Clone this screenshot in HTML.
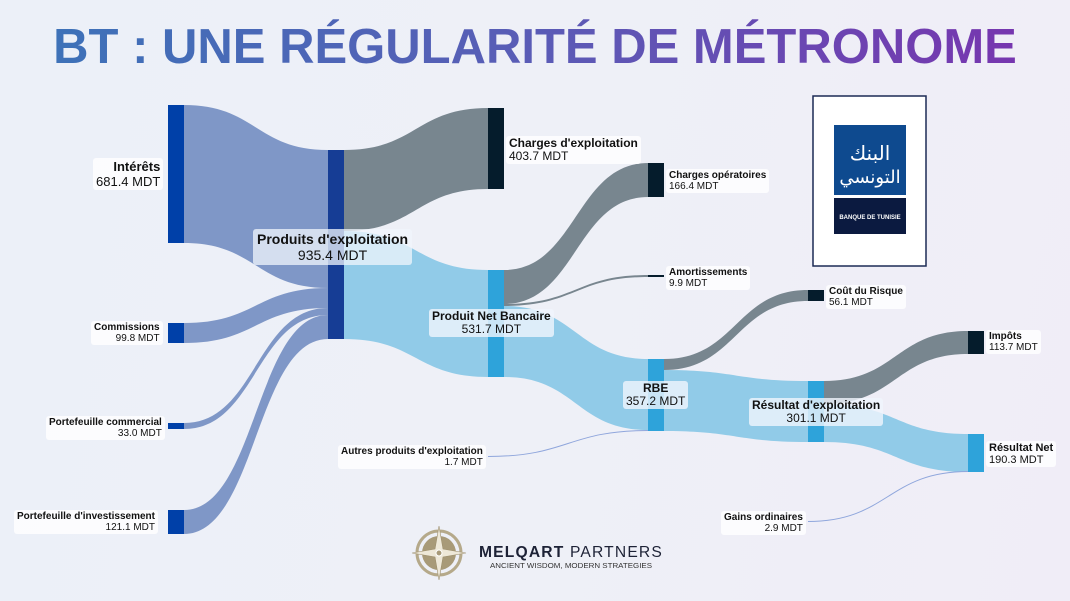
<!DOCTYPE html>
<html><head><meta charset="utf-8"><style>
html,body{margin:0;padding:0}
body{width:1070px;height:601px;overflow:hidden;background:linear-gradient(100deg,#ecf0f8 0%,#eef0f7 50%,#f0edf7 100%);font-family:"Liberation Sans",sans-serif;position:relative}
h1{position:absolute;top:18px;left:0;width:1070px;text-align:center;margin:0;font-size:49px;font-weight:bold;background:linear-gradient(90deg,#3a74b8 0%,#5a5cb6 50%,#7a32ae 100%);-webkit-background-clip:text;background-clip:text;color:transparent;line-height:58px}
.lb{position:absolute;background:rgba(255,255,255,0.8);border-radius:3px;padding:1px 3px;font-size:10px;line-height:11px;color:#111;white-space:nowrap}
.lb b{font-weight:bold}
.r{text-align:right}.c{text-align:center}
.big{font-size:13px;line-height:15px}
</style></head><body>
<h1>BT : UNE RÉGULARITÉ DE MÉTRONOME</h1>
<svg width="1070" height="601" style="position:absolute;left:0;top:0">
<path d="M184 105 C256 105 256 150 328 150 L328 288 C256 288 256 243 184 243Z" fill="#7f97c7"/>
<path d="M184 323 C256 323 256 288 328 288 L328 308 C256 308 256 343 184 343Z" fill="#7f97c7"/>
<path d="M184 423 C256 423 256 308 328 308 L328 315 C256 315 256 429 184 429Z" fill="#7f97c7"/>
<path d="M184 510 C256 510 256 315 328 315 L328 339 C256 339 256 534 184 534Z" fill="#7f97c7"/>
<path d="M344 150 C416 150 416 108 488 108 L488 189 C416 189 416 231 344 231Z" fill="#78868f"/>
<path d="M344 231 C416 231 416 270 488 270 L488 377 C416 377 416 339 344 339Z" fill="#91cbe8"/>
<path d="M504 270 C576 270 576 163 648 163 L648 197 C576 197 576 304 504 304Z" fill="#78868f"/>
<path d="M504 304 C576 304 576 275 648 275 L648 277 C576 277 576 306 504 306Z" fill="#78868f"/>
<path d="M504 306 C576 306 576 359 648 359 L648 430 C576 430 576 377 504 377Z" fill="#91cbe8"/>
<path d="M488 456.5 C568 456.5 568 430.5 648 430.5" stroke="#8fa6dc" stroke-width="1" fill="none"/>
<path d="M664 359 C736 359 736 290 808 290 L808 301 C736 301 736 370 664 370Z" fill="#78868f"/>
<path d="M664 370 C736 370 736 381 808 381 L808 442 C736 442 736 431 664 431Z" fill="#91cbe8"/>
<path d="M824 381 C896 381 896 331 968 331 L968 354 C896 354 896 404 824 404Z" fill="#78868f"/>
<path d="M824 404 C896 404 896 434 968 434 L968 472 C896 472 896 442 824 442Z" fill="#91cbe8"/>
<path d="M808 521.5 C888 521.5 888 471.5 968 471.5" stroke="#8fa6dc" stroke-width="1" fill="none"/>
<rect x="168" y="105" width="16" height="138" fill="#0040a8"/>
<rect x="168" y="323" width="16" height="20" fill="#0040a8"/>
<rect x="168" y="423" width="16" height="6" fill="#0040a8"/>
<rect x="168" y="510" width="16" height="24" fill="#0040a8"/>
<rect x="328" y="150" width="16" height="189" fill="#163d95"/>
<rect x="488" y="108" width="16" height="81" fill="#051c2c"/>
<rect x="488" y="270" width="16" height="107" fill="#2ea3da"/>
<rect x="648" y="163" width="16" height="34" fill="#051c2c"/>
<rect x="648" y="275" width="16" height="2" fill="#051c2c"/>
<rect x="648" y="359" width="16" height="72" fill="#2ea3da"/>
<rect x="808" y="290" width="16" height="11" fill="#051c2c"/>
<rect x="808" y="381" width="16" height="61" fill="#2ea3da"/>
<rect x="968" y="331" width="16" height="23" fill="#051c2c"/>
<rect x="968" y="434" width="16" height="38" fill="#2ea3da"/>
<rect x="813" y="96" width="113" height="170" fill="#fff" stroke="#1c2a55" stroke-width="1.5"/>
<rect x="834" y="125" width="72" height="70" fill="#0e4a8f"/>
<rect x="834" y="198" width="72" height="36" fill="#0b1a40"/>
<text x="870" y="160" fill="#fff" font-size="20" text-anchor="middle" font-family="DejaVu Sans">البنك</text>
<text x="870" y="183" fill="#fff" font-size="18" text-anchor="middle" font-family="DejaVu Sans">التونسي</text>
<text x="870" y="219" fill="#fff" font-size="6" font-weight="bold" text-anchor="middle">BANQUE DE TUNISIE</text>
<circle cx="439" cy="553" r="22" fill="none" stroke="#b5a98a" stroke-width="3"/>
<circle cx="439" cy="553" r="17" fill="#a89a78"/>
<polygon points="439,526 443,549 466,553 443,557 439,580 435,557 412,553 435,549" fill="#eee8d8" stroke="#9c8e6c" stroke-width="0.6"/>
<circle cx="439" cy="553" r="3" fill="#a89a78" stroke="#fff"/>
<text x="479" y="557" font-size="16" fill="#1d2236" letter-spacing="1.2" textLength="184" lengthAdjust="spacingAndGlyphs"><tspan font-weight="bold">MELQART</tspan> PARTNERS</text>
<text x="490" y="568" font-size="7.5" fill="#333" textLength="162" lengthAdjust="spacingAndGlyphs">ANCIENT WISDOM, MODERN STRATEGIES</text>
</svg>
<div class="lb r big" style="left:93px;top:158px"><b>Intérêts</b><br>681.4 MDT</div>
<div class="lb r" style="left:91px;top:321px"><b>Commissions</b><br>99.8 MDT</div>
<div class="lb r" style="left:46px;top:416px"><b>Portefeuille commercial</b><br>33.0 MDT</div>
<div class="lb r" style="left:14px;top:510px"><b>Portefeuille d'investissement</b><br>121.1 MDT</div>
<div class="lb c big" style="left:253px;top:229px;font-size:14px;line-height:16px;padding:2px 4px;background:rgba(240,245,252,0.75)"><b>Produits d'exploitation</b><br>935.4 MDT</div>
<div class="lb" style="left:506px;top:136px;font-size:12px;line-height:13px"><b>Charges d'exploitation</b><br>403.7 MDT</div>
<div class="lb c" style="left:429px;top:309px;font-size:12px;line-height:13px;background:rgba(240,245,252,0.8)"><b>Produit Net Bancaire</b><br>531.7 MDT</div>
<div class="lb" style="left:666px;top:169px"><b>Charges opératoires</b><br>166.4 MDT</div>
<div class="lb" style="left:666px;top:266px"><b>Amortissements</b><br>9.9 MDT</div>
<div class="lb c" style="left:623px;top:381px;font-size:12px;line-height:13px;background:rgba(240,245,252,0.8)"><b>RBE</b><br>357.2 MDT</div>
<div class="lb r" style="left:338px;top:445px"><b>Autres produits d'exploitation</b><br>1.7 MDT</div>
<div class="lb" style="left:826px;top:285px"><b>Coût du Risque</b><br>56.1 MDT</div>
<div class="lb c" style="left:749px;top:398px;font-size:12px;line-height:13px;background:rgba(240,245,252,0.8)"><b>Résultat d'exploitation</b><br>301.1 MDT</div>
<div class="lb" style="left:986px;top:330px"><b>Impôts</b><br>113.7 MDT</div>
<div class="lb" style="left:986px;top:441px;font-size:11px;line-height:12px"><b>Résultat Net</b><br>190.3 MDT</div>
<div class="lb r" style="left:721px;top:511px"><b>Gains ordinaires</b><br>2.9 MDT</div>
</body></html>
